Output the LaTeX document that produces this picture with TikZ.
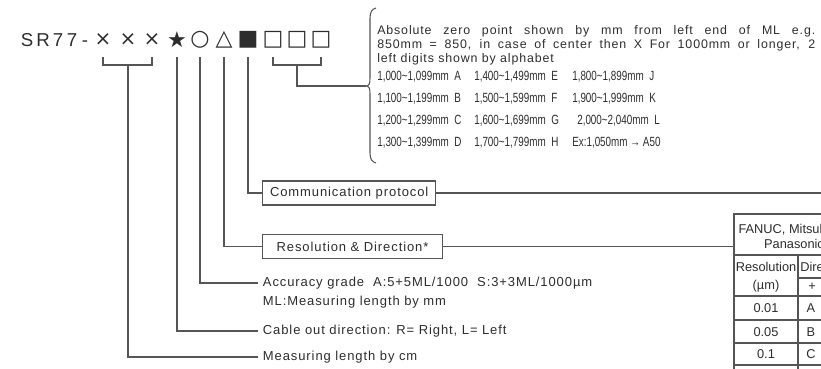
\documentclass[tikz,border=0pt]{standalone}
\usepackage{fontspec}
\setmainfont{Liberation Sans}
\newfontfamily\widefont[LetterSpace=7]{Liberation Sans}
\newfontfamily\rowfont[FakeStretch=0.74]{Liberation Sans}
\newfontfamily\symfont{DejaVu Sans}
\usetikzlibrary{positioning}
\definecolor{inkgray}{RGB}{45,45,45}
\definecolor{linegray}{RGB}{85,85,85}
\tikzset{
  conn/.style={draw=linegray, line width=0.8pt},
  glyph/.style={anchor=base, inner sep=0pt, text=inkgray, font=\fontsize{14}{14}\selectfont},
  sym/.style={inner sep=0pt, text=inkgray, font=\symfont\fontsize{16.5}{16.5}\selectfont},
  lbl/.style={anchor=west, inner xsep=3.5pt, inner ysep=0pt, text=inkgray, font=\widefont\fontsize{9.75}{11}\selectfont},
  labelbox/.style={draw=linegray, line width=0.8pt, anchor=west, inner sep=0pt, minimum height=18pt, text=inkgray, font=\widefont\fontsize{9.75}{11}\selectfont},
  rowtxt/.style={anchor=west, inner sep=0pt, text=inkgray, font=\rowfont\fontsize{10}{10}\selectfont},
  cell/.style={inner sep=0pt, text=inkgray, font=\fontsize{9.6}{10.5}\selectfont}
}
\begin{document}
\begin{tikzpicture}[x=0.75pt,y=0.75pt,yscale=-1,xscale=1]
\useasboundingbox (0,0) rectangle (821,368);
\clip (0,0) rectangle (821,368);

% model code
\node[glyph] (s) at (27,46.5) {S};
\node[glyph] (r) at (43,46.5) {R};
\node[glyph] (sa) at (58,46.5) {7};
\node[glyph] (sb) at (72,46.5) {7};
\node[glyph] (dash) at (85,46.5) {-};
\node[sym, font=\symfont\fontsize{15}{15}\selectfont] (xa) at (103,40) {×};
\node[sym, font=\symfont\fontsize{15}{15}\selectfont] (xb) at (128,40) {×};
\node[sym, font=\symfont\fontsize{15}{15}\selectfont] (xc) at (152,40) {×};
\node[sym] (star) at (177,40) {★};
\node[sym] (circ) at (200,40) {○};
\node[sym] (tri) at (224,40) {△};
\node[sym] (blk) at (248,40) {■};
\node[sym] (ba) at (273,40) {□};
\node[sym] (bb) at (297,40) {□};
\node[sym] (bc) at (321,40) {□};

\coordinate (stemtop) at (0,57);
\coordinate (brk) at (0,65);

% Text Node
\node[lbl] (meas) at (258,357) {Measuring length by cm};
% Text Node
\node[lbl] (cable) at (258,331) {Cable out direction: R= Right, L= Left};
% Text Node
\node[lbl] (acc) at (258,283) {Accuracy grade\ \ A:5+5ML/1000\ \ S:3+3ML/1000µm};
% Text Node
\node[lbl] (accml) at (258,302) {ML:Measuring length by mm};
% Text Node
\node[labelbox, minimum width=135pt] (resbox) at (262,246.5) {Resolution \& Direction*};
% Text Node
\node[labelbox, minimum width=130pt] (combox) at (262,193) {Communication protocol};

%Shape: Brace
\draw[conn] (376,8) .. controls (372,9) and (370,12) .. (370,18) -- (370,78) .. controls (370,84) and (369,86) .. (366,86) .. controls (369,86) and (370,88) .. (370,94) -- (370,153) .. controls (370,159) and (372,162) .. (376,163);
\coordinate (tip) at (366,86);

% Text Node
\node[anchor=north west, inner sep=0pt, text width=328.5pt, align=justify, text=inkgray, font=\widefont\fontsize{9.3}{10.5}\selectfont] (note) at (377,25) {Absolute zero point shown by mm from left end of ML e.g.\linebreak 850mm = 850, in case of center then X For 1000mm or longer, 2\linebreak left digits shown by alphabet};
% Text Node
\node[rowtxt] (ra) at (377,77) {1,000\textasciitilde1,099mm\ \ A};
\node[rowtxt] (rb) at (377,99) {1,100\textasciitilde1,199mm\ \ B};
\node[rowtxt] (rc) at (377,121) {1,200\textasciitilde1,299mm\ \ C};
\node[rowtxt] (rd) at (377,143) {1,300\textasciitilde1,399mm\ \ D};
\node[rowtxt] (re) at (474,77) {1,400\textasciitilde1,499mm\ \ E};
\node[rowtxt] (rf) at (474,99) {1,500\textasciitilde1,599mm\ \ F};
\node[rowtxt] (rg) at (474,121) {1,600\textasciitilde1,699mm\ \ G};
\node[rowtxt] (rh) at (474,143) {1,700\textasciitilde1,799mm\ \ H};
\node[rowtxt] (rj) at (572,77) {1,800\textasciitilde1,899mm\ \ J};
\node[rowtxt] (rk) at (572,99) {1,900\textasciitilde1,999mm\ \ K};
\node[rowtxt] (rl) at (577,121) {2,000\textasciitilde2,040mm\ \ L};
\node[rowtxt] (rex) at (572,143) {Ex:1,050mm → A50};

% table of resolution
\draw[conn] (734,370) -- (734,214) -- (860,214);
\draw[conn] (734,255) -- (860,255);
\draw[conn] (798,255) -- (798,370);
\draw[conn] (798,278) -- (860,278);
\foreach \y in {296,320,343,365} \draw[conn] (734,\y) -- (860,\y);
\coordinate (tblin) at (734,246.5);
\node[cell] (fanuc) at (794,230) {FANUC, Mitsubishi,};
\node[cell] (pana) at (794,244) {Panasonic};
\node[cell] (reso) at (766,267) {Resolution};
\node[cell] (unit) at (766,286) {(µm)};
\node[cell, anchor=west] (dirn) at (800,267) {Direction};
\node[cell] (plus) at (812,287) {+};
\node[cell] (va) at (766,308) {0.01};
\node[cell] (vb) at (766,332) {0.05};
\node[cell] (vc) at (766,354) {0.1};
\node[cell] (vd) at (766,376) {0.5};
\node[cell] (da) at (811,308) {A};
\node[cell] (db) at (811,332) {B};
\node[cell] (dc) at (811,354) {C};

%Straight Lines
\draw[conn] (xa |- stemtop) -- (xa |- brk) -- (xc |- brk) -- (xc |- stemtop);
\draw[conn] (xb |- brk) |- (meas.west);
\draw[conn] (star |- stemtop) |- (cable.west);
\draw[conn] (circ |- stemtop) |- (acc.west);
\draw[conn] (tri |- stemtop) |- (resbox.west);
\draw[conn] (blk |- stemtop) |- (combox.west);
\draw[conn] (ba |- stemtop) -- (ba |- brk) -- (bc |- brk) -- (bc |- stemtop);
\draw[conn] (bb |- brk) |- (tip);
\draw[conn] (combox.east) -- ++(400,0);
\draw[conn] (resbox.east) -- (tblin);
\end{tikzpicture}
\end{document}
